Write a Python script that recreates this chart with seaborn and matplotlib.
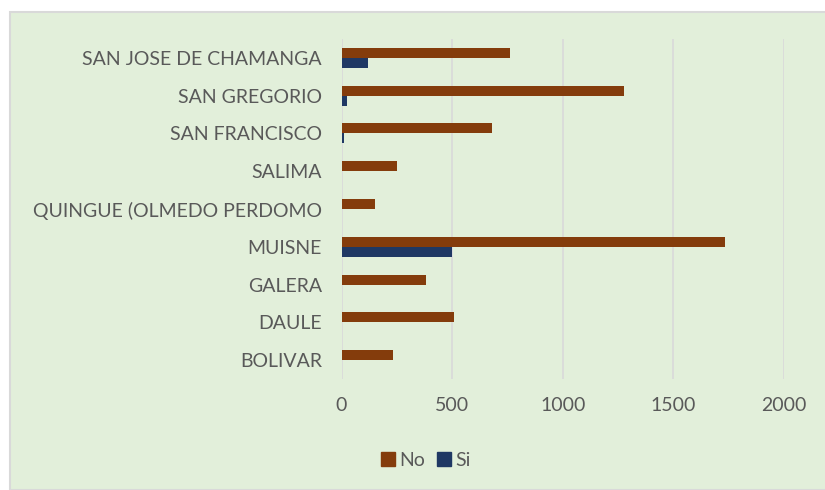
import matplotlib
matplotlib.use("Agg")
import matplotlib.pyplot as plt
import matplotlib.patches as mpatches
import pandas as pd
import seaborn as sns

parroquias = ["SAN JOSE DE CHAMANGA", "SAN GREGORIO", "SAN FRANCISCO", "SALIMA",
              "QUINGUE (OLMEDO PERDOMO", "MUISNE", "GALERA", "DAULE", "BOLIVAR"]
no_vals = [761, 1278, 682, 250, 152, 1735, 381, 509, 233]
si_vals = [118, 26, 11, 0, 0, 501, 0, 0, 3]
series = ["No", "Si"]
colores = {"No": "#843C0C", "Si": "#1F3864"}

df = pd.DataFrame({
    "parroquia": parroquias * 2,
    "serie": ["No"] * len(parroquias) + ["Si"] * len(parroquias),
    "valor": no_vals + si_vals,
})

sns.set_style("white")
plt.rcParams["font.family"] = ["Lato", "DejaVu Sans"]
txt = "#595959"
bg = "#E2EFDA"

fig = plt.figure(figsize=(8.25, 4.9), dpi=100)
fig.patch.set_facecolor("white")
fig.patches.append(mpatches.Rectangle((10 / 825, 0), 1, 1 - 12 / 490, transform=fig.transFigure,
                                      facecolor=bg, edgecolor="#D9D9D9", linewidth=1.5, zorder=-10))
ax = fig.add_axes([341.5 / 825, 1 - 379 / 490, (784 - 341.5) / 825, 340 / 490])
ax.set_facecolor(bg)

sns.barplot(data=df, y="parroquia", x="valor", hue="serie", order=parroquias,
            hue_order=series, palette=colores, orient="h", width=0.53, ax=ax,
            legend=False, linewidth=0, saturation=1)

ax.set_xlim(0, 2000)
ax.set_xticks([0, 500, 1000, 1500, 2000])
ax.grid(axis="x", color="#D9D9D9", linewidth=1.2)
ax.set_axisbelow(True)
for s in ax.spines.values():
    s.set_visible(False)
ax.set_xlabel("")
ax.set_ylabel("")
ax.tick_params(axis="both", length=0, labelsize=14, colors=txt)
ax.tick_params(axis="y", pad=14)
ax.tick_params(axis="x", pad=13)

handles = [mpatches.Patch(color=colores[s], label=s) for s in series]
fig.legend(handles=handles, loc="center", bbox_to_anchor=(426 / 825, 1 - 460 / 490), ncol=2,
           frameon=False, fontsize=14, labelcolor=txt, handlelength=0.7, handleheight=0.7,
           handletextpad=0.25, columnspacing=0.6)

fig.savefig("out.png", dpi=100, facecolor=fig.get_facecolor())
